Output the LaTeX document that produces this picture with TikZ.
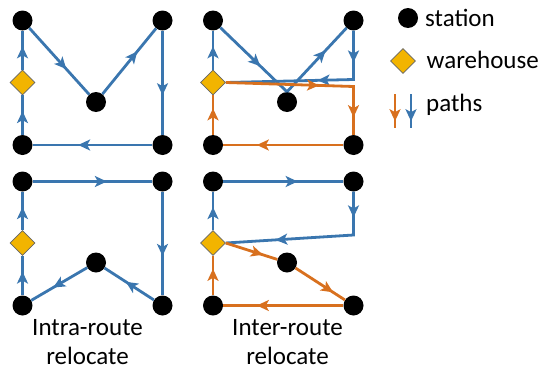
\documentclass[tikz,border=0pt]{standalone}
\usepackage{fontspec}
\setmainfont{Carlito}
\usetikzlibrary{shapes.geometric,arrows.meta,decorations.markings}
\definecolor{routeblue}{RGB}{58,118,175}
\definecolor{routeorange}{RGB}{216,112,30}
\definecolor{whyellow}{RGB}{242,180,0}
\begin{document}
\begin{tikzpicture}[x=1pt,y=-1pt,
    station/.style={circle,fill=black,minimum size=20pt,inner sep=0pt},
    warehouse/.style={diamond,draw=black!60,fill=whyellow,minimum size=25pt,inner sep=0pt,line width=0.6pt},
    blueline/.style={draw=routeblue,line width=2.8pt},
    orangeline/.style={draw=routeorange,line width=2.8pt},
    arr/.style={postaction={decorate,decoration={markings,mark=at position #1 with {\arrow{Stealth[length=12pt,width=11pt,inset=3pt]}}}}},
    arr/.default=0.62,
    txt/.style={font=\fontsize{25}{29}\selectfont,inner sep=0pt}]
    \useasboundingbox (0,0) rectangle (540,372);
    % top left: before intra-route relocate
    \node[station] (tl1) at (22.5,20.5) {};
    \node[station] (tr1) at (162.5,20.5) {};
    \node[station] (m1) at (96,102) {};
    \node[station] (bl1) at (22.5,145) {};
    \node[station] (br1) at (162.5,145) {};
    \node[warehouse] (w1) at (22.5,82.5) {};
    \draw[blueline,arr=0.6] (bl1) -- (w1);
    \draw[blueline,arr=0.6] (w1) -- (tl1);
    \draw[blueline,arr] (tl1) -- (m1);
    \draw[blueline,arr=0.65] (m1) -- (tr1);
    \draw[blueline,arr] (tr1) -- (br1);
    \draw[blueline,arr] (br1) -- (bl1);
    % top right: before inter-route relocate
    \node[station] (tl2) at (213,20.5) {};
    \node[station] (tr2) at (353.5,20.5) {};
    \node[station] (m2) at (287,102) {};
    \node[station] (bl2) at (213,145) {};
    \node[station] (br2) at (353.5,145) {};
    \node[warehouse] (w2) at (213,82.5) {};
    \coordinate (c2b) at (353.5,79.5);
    \coordinate (c2o) at (353.5,86.5);
    \draw[blueline,arr=0.6] (w2) -- (tl2);
    \draw[blueline,arr=0.6] (tl2) -- (m2.north);
    \draw[blueline,arr=0.65] (m2.north) -- (tr2);
    \draw[blueline,arr=0.18,arr=0.48] (tr2) -- (c2b) -- (w2.east);
    \draw[orangeline,arr=0.53,arr=0.9] (w2.east) -- (c2o) -- (br2);
    \draw[orangeline,arr=0.72] (br2) -- (bl2);
    \draw[orangeline,arr=0.67] (bl2) -- (w2);
    % bottom left: after intra-route relocate
    \node[station] (tl3) at (22.5,181.5) {};
    \node[station] (tr3) at (162.5,181.5) {};
    \node[station] (m3) at (96,262.5) {};
    \node[station] (bl3) at (22.5,305.5) {};
    \node[station] (br3) at (162.5,305.5) {};
    \node[warehouse] (w3) at (22.5,243) {};
    \draw[blueline,arr=0.6] (bl3) -- (w3);
    \draw[blueline,arr=0.6] (w3) -- (tl3);
    \draw[blueline,arr] (tl3) -- (tr3);
    \draw[blueline,arr] (tr3) -- (br3);
    \draw[blueline,arr=0.57] (br3) -- (m3);
    \draw[blueline,arr=0.61] (m3) -- (bl3);
    % bottom right: after inter-route relocate
    \node[station] (tl4) at (213,181.5) {};
    \node[station] (tr4) at (353.5,181.5) {};
    \node[station] (m4) at (287,262.5) {};
    \node[station] (bl4) at (213,305.5) {};
    \node[station] (br4) at (353.5,305.5) {};
    \node[warehouse] (w4) at (213,243) {};
    \coordinate (c4b) at (353.5,235);
    \draw[blueline,arr=0.6] (w4) -- (tl4);
    \draw[blueline,arr] (tl4) -- (tr4);
    \draw[blueline,arr=0.15,arr=0.71] (tr4) -- (c4b) -- (w4.east);
    \draw[orangeline,arr=0.72] (w4.east) -- (m4);
    \draw[orangeline,arr=0.76] (m4) -- (br4);
    \draw[orangeline,arr=0.72] (br4) -- (bl4);
    \draw[orangeline,arr=0.67] (bl4) -- (w4);
    % captions
    \node[txt,align=center,anchor=north] (cap1) at (87.5,319) {Intra-route\\relocate};
    \node[txt,align=center,anchor=north] (cap2) at (287.5,319) {Inter-route\\relocate};
    % legend
    \node[station] (lst) at (408,18) {};
    \node[txt,anchor=base west] (lsttxt) at (425,26) {station};
    \node[warehouse] (lwh) at (403,61) {};
    \node[txt,anchor=base west] (lwhtxt) at (426.5,68.5) {warehouse};
    \coordinate (lo1) at (395,94);
    \coordinate (lo2) at (395,128);
    \coordinate (lb1) at (411,94);
    \coordinate (lb2) at (411,128);
    \draw[orangeline,arr=0.8] (lo1) -- (lo2);
    \draw[blueline,arr=0.8] (lb1) -- (lb2);
    \node[txt,anchor=base west] (lpath) at (426,111.5) {paths};
\end{tikzpicture}
\end{document}
